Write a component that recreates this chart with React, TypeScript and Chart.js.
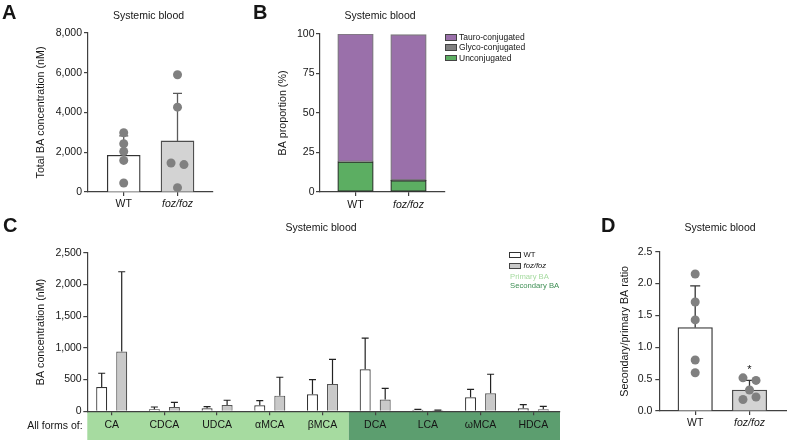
import React, { useEffect, useRef } from "react";
import { Chart, registerables } from "chart.js";
Chart.register(...registerables);

const FONT = "'Liberation Sans', Arial, Helvetica, sans-serif";
const W = 787;
const H = 448;
const AXIS = "#404040";
const TXT = "#151515";

// ---------- data ----------
const groups = ["WT", "foz/foz"];

// Panel A: total BA concentration (nM)
const totalMean = [1850, 2570];
const totalSD = [970, 2390];
const totalPtsWT = [2980, 2430, 2040, 1590, 450];
const totalPtsFoz = [5900, 4270, 1460, 1380, 220];
const jitterA_WT = [0, 0, 0, 0, 0];
const jitterA_Foz = [0, 0, -0.12, 0.12, 0];

// Panel B: BA proportion (%)
const conjLabels = ["Tauro-conjugated", "Glyco-conjugated", "Unconjugated"];
const unconjugated = [19.0, 7.2];
const glycoConjugated = [0.3, 0.3];
const tauroConjugated = [80.7, 92.1];

// Panel C: BA concentration (nM) per acid
const acids = ["CA", "CDCA", "UDCA", "αMCA", "βMCA", "DCA", "LCA", "ωMCA", "HDCA"];
const acidWT = [384, 32, 47, 95, 268, 663, 25, 221, 47];
const acidWTsd = [216, 36, 27, 73, 232, 490, 5, 126, 57];
const acidFoz = [942, 68, 100, 247, 430, 187, 15, 284, 32];
const acidFozSd = [1258, 74, 74, 290, 390, 173, 5, 300, 47];
const primaryCount = 5; // first 5 acids are primary BA

// Panel D: secondary/primary ratio
const ratioMean = [1.31, 0.33];
const ratioSD = [0.655, 0.15];
const ratioPtsWT = [2.15, 1.71, 1.43, 0.8, 0.6];
const ratioPtsFoz = [0.52, 0.48, 0.33, 0.18, 0.22];
const jitterD_WT = [0, 0, 0, 0, 0];
const jitterD_Foz = [-0.12, 0.12, 0, -0.12, 0.12];

// ---------- helpers ----------
type Box = { L: number; T: number; R: number; B: number; yw: number; xh: number };

function layoutFor(b: Box) {
  return {
    autoPadding: false,
    padding: { left: b.L - b.yw, top: b.T, right: W - b.R, bottom: H - b.B - b.xh },
  };
}

function yAxis(max: number, step: number, title: string, b: Box, pad: number, fmt: (v: number) => string) {
  return {
    min: 0,
    max,
    ticks: { stepSize: step, color: TXT, font: { family: FONT, size: 10.5 }, padding: pad, callback: (v: any) => fmt(Number(v)) },
    grid: { drawOnChartArea: false, drawTicks: true, tickLength: 4, color: AXIS, lineWidth: 1.2 },
    border: { color: AXIS, width: 1.2 },
    title: { display: true, text: title, color: TXT, font: { family: FONT, size: 10.7 }, padding: 0 },
    afterFit: (s: any) => { s.width = b.yw; },
  };
}

function xAxis(labels: string[], min: number, max: number, b: Box, pad: number, stacked = false) {
  return {
    type: "linear",
    min,
    max,
    offset: false,
    stacked,
    afterBuildTicks: (s: any) => { s.ticks = labels.map((_, i) => ({ value: i })); },
    ticks: {
      autoSkip: false,
      maxRotation: 0,
      color: TXT,
      padding: pad,
      callback: (v: any) => labels[Math.round(Number(v))] ?? "",
      font: (ctx: any) => ({
        family: FONT,
        size: 10.5,
        style: ctx.tick && labels[Math.round(ctx.tick.value)] === "foz/foz" ? "italic" : "normal",
      }),
    },
    grid: { drawOnChartArea: false, drawTicks: true, tickLength: 4, color: AXIS, lineWidth: 1.2, offset: false },
    border: { color: AXIS, width: 1.2 },
    afterFit: (s: any) => { s.height = b.xh; },
  };
}

type ErrSpec = { dataset: number; mean: number[]; sd: number[]; color: string; cap: number; width: number };

function errorBars(specs: ErrSpec[]) {
  return {
    id: "errorBars",
    afterDatasetDraw(chart: any, args: any) {
      const s = specs.find((q) => q.dataset === args.index);
      if (!s) return;
      const meta = chart.getDatasetMeta(args.index);
      const ys = chart.scales.y;
      const ctx = chart.ctx;
      ctx.save();
      ctx.strokeStyle = s.color;
      ctx.lineWidth = s.width;
      meta.data.forEach((el: any, i: number) => {
        const x = el.x;
        const y0 = ys.getPixelForValue(s.mean[i]);
        const y1 = ys.getPixelForValue(s.mean[i] + s.sd[i]);
        ctx.beginPath();
        ctx.moveTo(x, y0);
        ctx.lineTo(x, y1);
        ctx.moveTo(x - s.cap / 2, y1);
        ctx.lineTo(x + s.cap / 2, y1);
        ctx.stroke();
      });
      ctx.restore();
    },
  };
}

const noPlugins = { legend: { display: false }, tooltip: { enabled: false }, title: { display: false } };

function pointsDataset(values: number[], group: number, jitter: number[]) {
  return {
    type: "scatter",
    order: 0,
    data: values.map((y, i) => ({ x: group + jitter[i], y })),
    pointRadius: 4.5,
    pointHoverRadius: 4.5,
    backgroundColor: "#808080",
    borderWidth: 0,
  };
}

const fmtComma = (v: number) => v.toLocaleString("en-US");

// ---------- charts ----------
function makeA(canvas: HTMLCanvasElement) {
  const b: Box = { L: 88, T: 33, R: 213, B: 192, yw: 53, xh: 22 };
  return new Chart(canvas, {
    type: "bar",
    data: {
      datasets: [
        {
          order: 1,
          data: totalMean.map((y, i) => ({ x: i, y })),
          backgroundColor: ["#ffffff", "#d3d3d3"],
          borderColor: ["#333333", "#4d4d4d"],
          borderWidth: 1.3,
          barThickness: 33,
        } as any,
        pointsDataset(totalPtsWT, 0, jitterA_WT) as any,
        pointsDataset(totalPtsFoz, 1, jitterA_Foz) as any,
      ],
    },
    options: {
      responsive: false,
      animation: false,
      layout: layoutFor(b) as any,
      plugins: noPlugins as any,
      scales: {
        x: xAxis(groups, -0.664, 1.66, b, 2) as any,
        y: yAxis(8000, 2000, "Total BA concentration (nM)", b, 2, fmtComma) as any,
      },
    },
    plugins: [errorBars([{ dataset: 0, mean: totalMean, sd: totalSD, color: "#5a5a5a", cap: 9, width: 1.3 }])],
  });
}

function makeB(canvas: HTMLCanvasElement) {
  const b: Box = { L: 320, T: 34, R: 445, B: 192, yw: 43, xh: 22 };
  const seg = (vals: number[], color: string, border: string) => ({
    data: vals.map((y, i) => ({ x: i, y })),
    backgroundColor: color,
    borderColor: border,
    borderWidth: 1.2,
    barThickness: 35.5,
    borderSkipped: false,
  });
  return new Chart(canvas, {
    type: "bar",
    data: {
      datasets: [
        { label: conjLabels[2], ...seg(unconjugated, "#5cae62", "#2a2a2a") } as any,
        { label: conjLabels[1], ...seg(glycoConjugated, "#808080", "#333333") } as any,
        { label: conjLabels[0], ...seg(tauroConjugated, "#9a70aa", "#7a7a7a") } as any,
      ],
    },
    options: {
      responsive: false,
      animation: false,
      layout: layoutFor(b) as any,
      plugins: noPlugins as any,
      scales: {
        x: xAxis(groups, -0.67, 1.689, b, 3, true) as any,
        y: { ...yAxis(100, 25, "BA proportion (%)", b, 1.5, (v) => String(v)), stacked: true } as any,
      },
    },
  });
}

function makeC(canvas: HTMLCanvasElement) {
  const b: Box = { L: 87.3, T: 252.7, R: 560, B: 411.3, yw: 52.4, xh: 28.7 };
  const band = {
    id: "band",
    beforeDraw(chart: any) {
      const { ctx, chartArea } = chart;
      const xs = chart.scales.x;
      const split = xs.getPixelForValue(primaryCount - 0.5);
      const top = chartArea.bottom;
      const bottom = xs.bottom;
      ctx.save();
      ctx.fillStyle = "#a6dba0";
      ctx.fillRect(chartArea.left, top, split - chartArea.left, bottom - top);
      ctx.fillStyle = "#5c9e6f";
      ctx.fillRect(split, top, chartArea.right - split, bottom - top);
      ctx.restore();
    },
  };
  return new Chart(canvas, {
    type: "bar",
    data: {
      datasets: [
        {
          label: "WT",
          data: acidWT.map((y, i) => ({ x: i, y })),
          backgroundColor: "#ffffff",
          borderColor: "#333333",
          borderWidth: 1.2,
          categoryPercentage: 0.76,
          barPercentage: 0.55,
        } as any,
        {
          label: "foz/foz",
          data: acidFoz.map((y, i) => ({ x: i, y })),
          backgroundColor: "#c9c9c9",
          borderColor: "#555555",
          borderWidth: 1.2,
          categoryPercentage: 0.76,
          barPercentage: 0.55,
        } as any,
      ],
    },
    options: {
      responsive: false,
      animation: false,
      layout: layoutFor(b) as any,
      plugins: noPlugins as any,
      scales: {
        x: xAxis(acids, -0.463, 8.507, b, 3.4) as any,
        y: yAxis(2500, 500, "BA concentration (nM)", b, 1.6, fmtComma) as any,
      },
    },
    plugins: [
      band,
      errorBars([
        { dataset: 0, mean: acidWT, sd: acidWTsd, color: "#222222", cap: 7, width: 1.2 },
        { dataset: 1, mean: acidFoz, sd: acidFozSd, color: "#222222", cap: 7, width: 1.2 },
      ]),
    ],
  });
}

function makeD(canvas: HTMLCanvasElement) {
  const b: Box = { L: 659.3, T: 251.7, R: 786.7, B: 411, yw: 40.7, xh: 22 };
  const star = {
    id: "star",
    afterDraw(chart: any) {
      const { ctx } = chart;
      const xs = chart.scales.x;
      const ys = chart.scales.y;
      const x = xs.getPixelForValue(1);
      const y = ys.getPixelForValue(ratioMean[1] + ratioSD[1]);
      ctx.save();
      ctx.fillStyle = TXT;
      ctx.font = `11px ${FONT}`;
      ctx.textAlign = "center";
      ctx.textBaseline = "alphabetic";
      ctx.fillText("*", x, y - 7);
      ctx.restore();
    },
  };
  return new Chart(canvas, {
    type: "bar",
    data: {
      datasets: [
        {
          order: 1,
          data: ratioMean.map((y, i) => ({ x: i, y })),
          backgroundColor: ["#ffffff", "#d3d3d3"],
          borderColor: ["#333333", "#4d4d4d"],
          borderWidth: 1.3,
          barThickness: 34.5,
        } as any,
        pointsDataset(ratioPtsWT, 0, jitterD_WT) as any,
        pointsDataset(ratioPtsFoz, 1, jitterD_Foz) as any,
      ],
    },
    options: {
      responsive: false,
      animation: false,
      layout: layoutFor(b) as any,
      plugins: noPlugins as any,
      scales: {
        x: xAxis(groups, -0.661, 1.685, b, 2) as any,
        y: yAxis(2.5, 0.5, "Secondary/primary BA ratio", b, 3, (v) => v.toFixed(1)) as any,
      },
    },
    plugins: [errorBars([{ dataset: 0, mean: ratioMean, sd: ratioSD, color: "#333333", cap: 10, width: 1.3 }]), star],
  });
}

// ---------- text helpers ----------
function Txt(props: {
  x: number; y: number; size?: number; bold?: boolean; italic?: boolean;
  anchor?: "start" | "middle" | "end"; color?: string; children: React.ReactNode;
}) {
  const { x, y, size = 10.5, bold, italic, anchor = "middle", color = TXT, children } = props;
  const tx = anchor === "middle" ? "-50%" : anchor === "end" ? "-100%" : "0";
  return (
    <div
      style={{
        position: "absolute",
        left: x,
        top: y,
        transform: `translate(${tx}, -50%)`,
        fontSize: size,
        lineHeight: 1,
        fontWeight: bold ? 700 : 400,
        fontStyle: italic ? "italic" : "normal",
        color,
        whiteSpace: "nowrap",
        fontFamily: FONT,
      }}
    >
      {children}
    </div>
  );
}

function Swatch(props: { x: number; y: number; w: number; h: number; fill: string; border: string }) {
  return (
    <div
      style={{
        position: "absolute",
        left: props.x,
        top: props.y,
        width: props.w,
        height: props.h,
        background: props.fill,
        border: `1px solid ${props.border}`,
        boxSizing: "border-box",
      }}
    />
  );
}

export default function App() {
  const refA = useRef<HTMLCanvasElement>(null);
  const refB = useRef<HTMLCanvasElement>(null);
  const refC = useRef<HTMLCanvasElement>(null);
  const refD = useRef<HTMLCanvasElement>(null);

  useEffect(() => {
    const charts = [
      makeA(refA.current!),
      makeB(refB.current!),
      makeC(refC.current!),
      makeD(refD.current!),
    ];
    return () => charts.forEach((c) => c.destroy());
  }, []);

  const cv = { position: "absolute" as const, left: 0, top: 0 };
  const title = "Systemic blood";

  return (
    <div style={{ position: "absolute", left: 0, top: 0, width: W, height: H, background: "#fff", overflow: "hidden", fontFamily: FONT }}>
      <canvas ref={refC} width={W} height={H} style={cv} />
      <canvas ref={refA} width={W} height={H} style={cv} />
      <canvas ref={refB} width={W} height={H} style={cv} />
      <canvas ref={refD} width={W} height={H} style={cv} />

      <Txt x={2} y={11.7} size={20} bold anchor="start">A</Txt>
      <Txt x={253} y={11.7} size={20} bold anchor="start">B</Txt>
      <Txt x={3} y={225.3} size={20} bold anchor="start">C</Txt>
      <Txt x={601} y={224.7} size={20} bold anchor="start">D</Txt>

      <Txt x={148.5} y={14.8}>{title}</Txt>
      <Txt x={380} y={14.5}>{title}</Txt>
      <Txt x={321} y={227.3}>{title}</Txt>
      <Txt x={720} y={227.3}>{title}</Txt>

      {/* Legend B */}
      <Swatch x={444.5} y={34} w={12} h={6.5} fill="#9a70aa" border="#444" />
      <Swatch x={444.5} y={44.2} w={12} h={6.5} fill="#808080" border="#444" />
      <Swatch x={444.5} y={54.5} w={12} h={6.5} fill="#5cae62" border="#444" />
      <Txt x={459} y={37.2} size={8.5} anchor="start">{conjLabels[0]}</Txt>
      <Txt x={459} y={47.4} size={8.5} anchor="start">{conjLabels[1]}</Txt>
      <Txt x={459} y={57.7} size={8.5} anchor="start">{conjLabels[2]}</Txt>

      {/* Legend C */}
      <Swatch x={509.3} y={252.3} w={12} h={6} fill="#ffffff" border="#333" />
      <Swatch x={509.3} y={262.7} w={12} h={6} fill="#c9c9c9" border="#444" />
      <Txt x={523.5} y={255.3} size={7.7} anchor="start">{groups[0]}</Txt>
      <Txt x={523.5} y={265.7} size={7.7} anchor="start" italic>{groups[1]}</Txt>
      <Txt x={510} y={276.7} size={7.7} anchor="start" color="#a6dba0">Primary BA</Txt>
      <Txt x={510} y={286} size={7.7} anchor="start" color="#3f8f55">Secondary BA</Txt>

      <Txt x={82.7} y={425} anchor="end">All forms of:</Txt>
    </div>
  );
}
